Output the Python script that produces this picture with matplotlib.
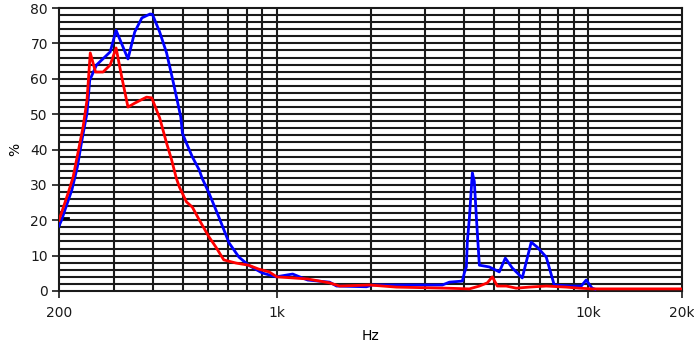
import matplotlib
matplotlib.use("Agg")
import matplotlib.pyplot as plt
from matplotlib.ticker import FixedLocator, NullLocator

blue_f = [200, 204, 209, 220, 229, 237, 246, 248, 251, 264, 292, 305, 333, 350, 369, 392, 399,
          421, 443, 466, 492, 498, 513, 536, 564, 576, 606, 652, 703, 756, 812, 898, 995,
          1125, 1184, 1257, 1478, 1556, 1942, 2030, 2450, 3403, 3584, 3944, 4002, 4062, 4092,
          4154, 4246, 4308, 4373, 4472, 4813, 5183, 5418, 5705, 6141, 6561, 6860, 7331, 7777,
          8881, 9495, 9850, 10292, 10524]
blue_v = [18.4, 20.1, 22.9, 28.6, 35, 42.7, 50.3, 54, 59.6, 63.9, 67.6, 73.7, 65.6, 73.2, 77.2, 78.3, 78.2,
          73.2, 67.3, 58.8, 49.2, 44.6, 41.8, 37.9, 34.2, 31.9, 27.7, 20.9, 13.6, 9.6, 7.3, 5.1, 4.0,
          4.8, 4.0, 3.1, 2.5, 1.4, 1.2, 1.7, 1.7, 1.7, 2.5, 2.8, 5.1, 6.8, 14,
          20.6, 33.4, 31, 21, 7.3, 6.8, 5.4, 9.3, 6.5, 3.7, 13.8, 12.4, 9.6, 1.7,
          1.4, 1.4, 3.1, 0.8, 0.5]

red_f = [200, 214, 222, 230, 239, 246, 252, 262, 277, 292, 305, 318, 333, 350, 382, 397, 421,
         443, 460, 476, 487, 513, 536, 564, 606, 638, 676, 740, 812, 875, 946, 1000, 1125,
         1257, 1478, 1591, 1985, 2423, 3505, 4154, 4472, 4743, 4922, 5106, 5458, 5874, 6466,
         7331, 8497, 9354, 10292, 20000]
red_v = [20.0, 27.7, 32.2, 39, 46.4, 54, 67.3, 61.9, 61.9, 63.9, 68.7, 60.5, 52, 53.1, 54.8, 54.6, 48.9,
         41.8, 37, 31.9, 29.4, 25.2, 23.7, 20.1, 15.3, 12.4, 8.8, 7.9, 7.3, 6.2, 5.4, 4.0, 3.7,
         3.4, 2.3, 1.4, 1.7, 1.1, 0.8, 0.6, 1.4, 2.3, 4.0, 1.4, 1.4, 0.8, 1.1,
         1.4, 1.1, 0.8, 0.6, 0.6]

black_f = [200, 200, 200, 213]
black_v = [22.2, 18.8, 20.5, 20.5]

grid_x = [300, 400, 500, 600, 700, 800, 900, 1000, 2000, 3000, 4000, 5000, 6000, 7000,
          8000, 9000, 10000]
grid_y = list(range(2, 80, 2))
x_ticks = [200, 1000, 10000, 20000]
x_labels = ["200", "1k", "10k", "20k"]
y_ticks = list(range(0, 81, 10))

fig = plt.figure(figsize=(6.94, 3.54), dpi=100)
ax = fig.add_axes([59/694, 63/354, 623/694, 283/354])
ax.set_xscale("log")
ax.set_xlim(200, 20000)
ax.set_ylim(0, 80)

for gx in grid_x:
    ax.axvline(gx, color="#1a1a1a", lw=1.5, zorder=1)
for gy in grid_y:
    ax.axhline(gy, color="#1a1a1a", lw=1.5, zorder=1)

ax.plot(black_f, black_v, color="black", lw=2.0, zorder=2)
ax.plot(blue_f, blue_v, color="#0000ff", lw=2.0, zorder=3)
ax.plot(red_f, red_v, color="#ff0000", lw=2.0, zorder=4)

for s in ax.spines.values():
    s.set_color("#1a1a1a")
    s.set_linewidth(1.5)

ax.xaxis.set_major_locator(FixedLocator(x_ticks))
ax.xaxis.set_minor_locator(NullLocator())
ax.set_xticklabels(x_labels)
ax.set_yticks(y_ticks)
ax.tick_params(axis="both", direction="out", length=5, width=1.2, colors="#1a1a1a",
               labelsize=10, pad=3)
ax.tick_params(axis="x", pad=6)
ax.set_xlabel("Hz", fontsize=10, labelpad=6)
ax.set_ylabel("%", fontsize=10, labelpad=6)

fig.savefig("out.png", dpi=100)
